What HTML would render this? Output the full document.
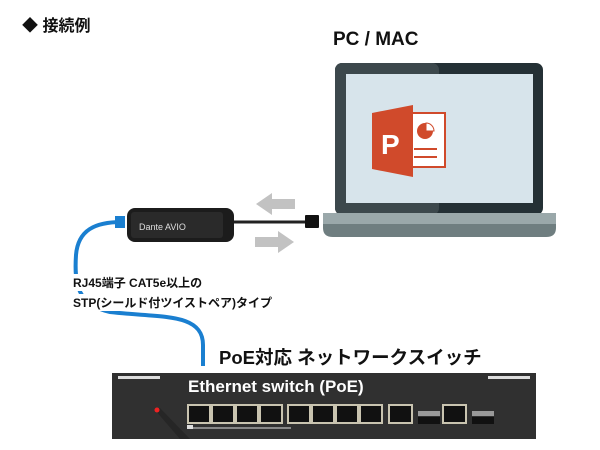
<!DOCTYPE html>
<html><head><meta charset="utf-8"><style>
body{margin:0;width:600px;height:450px;background:#fff;position:relative;overflow:hidden;font-family:"Liberation Sans","Noto Sans CJK JP",sans-serif}
.t{position:absolute;font-weight:bold;color:#111;white-space:nowrap}
</style></head><body>
<svg width="600" height="450" style="position:absolute;left:0;top:0">
<path d="M122,222 C95,222 78,230 76,255 C74,285 78,305 110,312 C160,318 203,312 203,345 L203,366" fill="none" stroke="#1a7fd0" stroke-width="4"/>
<rect x="115" y="216" width="10" height="12" fill="#1a7fd0"/>
<rect x="127" y="208" width="107" height="34" rx="8" fill="#1c1c1c"/>
<rect x="131" y="212" width="92" height="26" rx="3" fill="#2a2a2a"/>
<text x="139" y="230" font-family="Liberation Sans" font-size="9" fill="#ddd">Dante AVIO</text>
<line x1="234" y1="222" x2="305" y2="222" stroke="#222" stroke-width="3"/>
<rect x="305" y="215" width="14" height="13" rx="1" fill="#111"/>
<polygon points="295,199 272,199 272,193 256,204 272,215 272,209 295,209" fill="#c2c2c2"/>
<polygon points="255,237 278,237 278,231 294,242 278,253 278,247 255,247" fill="#c2c2c2"/>
<rect x="335" y="63" width="208" height="152" rx="7" fill="#243035"/>
<rect x="335" y="63" width="104" height="152" rx="7" fill="#3c484c"/>
<rect x="346" y="74" width="187" height="129" fill="#d7e4eb"/>
<path d="M323,213 H556 V228 Q556,237 546,237 H333 Q323,237 323,228 Z" fill="#6f7e80"/>
<rect x="323" y="213" width="233" height="11" fill="#9aa8aa"/>
<rect x="410" y="113" width="35" height="54" fill="#fff" stroke="#d04a2b" stroke-width="2"/>
<circle cx="425" cy="131" r="8" fill="#d04a2b"/>
<path d="M426,123 A8,8 0 0 1 434,131 L426,131 Z" fill="#fff" stroke="#d04a2b" stroke-width="1"/>
<line x1="414" y1="149" x2="437" y2="149" stroke="#d04a2b" stroke-width="2"/>
<line x1="414" y1="157" x2="437" y2="157" stroke="#d04a2b" stroke-width="2"/>
<polygon points="372,113 413,105 413,177 372,169" fill="#d04a2b"/>
<text x="381" y="154" font-family="Liberation Sans" font-weight="bold" font-size="28" fill="#fff">P</text>
<rect x="112" y="373" width="424" height="66" fill="#303030"/>
<rect x="118" y="376" width="42" height="3" fill="#ddd"/>
<rect x="488" y="376" width="42" height="3" fill="#ddd"/>
<polygon points="155,410 160,408 190,439 180,439" fill="#262626"/>
<circle cx="157" cy="410" r="2.5" fill="#e22"/>
<rect x="187" y="427" width="104" height="2" fill="#888"/>
<rect x="187" y="425" width="6" height="4" fill="#ddd"/>
<g fill="#111" stroke="#c9c4b0" stroke-width="2">
<rect x="188" y="405" width="22" height="18"/><rect x="212" y="405" width="22" height="18"/><rect x="236" y="405" width="22" height="18"/><rect x="260" y="405" width="22" height="18"/>
<rect x="288" y="405" width="22" height="18"/><rect x="312" y="405" width="22" height="18"/><rect x="336" y="405" width="22" height="18"/><rect x="360" y="405" width="22" height="18"/>
<rect x="389" y="405" width="23" height="18"/><rect x="443" y="405" width="23" height="18"/>
</g>
<rect x="418" y="411" width="22" height="5" fill="#999"/><rect x="418" y="417" width="22" height="7" fill="#111"/>
<rect x="472" y="411" width="22" height="5" fill="#999"/><rect x="472" y="417" width="22" height="7" fill="#111"/>
</svg>
<div class="t" style="left:22px;top:12px;font-size:16px">◆ 接続例</div>
<div class="t" style="left:333px;top:29px;font-size:19px">PC / MAC</div>
<div class="t" style="left:73px;top:274px;font-size:12px;background:#fff">RJ45端子 CAT5e以上の</div>
<div class="t" style="left:73px;top:294px;font-size:12px;background:#fff">STP(シールド付ツイストペア)タイプ</div>
<div class="t" style="left:219px;top:344px;font-size:18.5px">PoE対応 ネットワークスイッチ</div>
<div class="t" style="left:188px;top:377px;font-size:17px;color:#fff;font-weight:bold">Ethernet switch (PoE)</div>
</body></html>
